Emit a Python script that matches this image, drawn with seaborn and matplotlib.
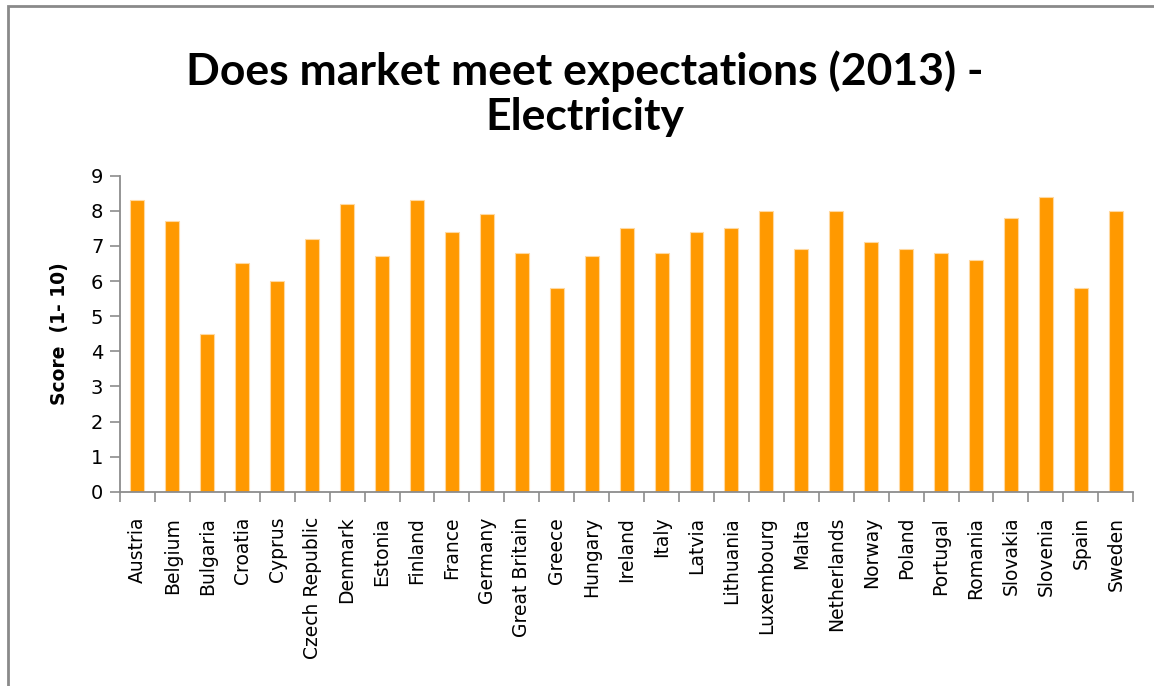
import matplotlib
matplotlib.use("Agg")
import matplotlib.pyplot as plt
import seaborn as sns
import pandas as pd
from matplotlib.patches import Rectangle

countries = ["Austria", "Belgium", "Bulgaria", "Croatia", "Cyprus", "Czech Republic",
             "Denmark", "Estonia", "Finland", "France", "Germany", "Great Britain",
             "Greece", "Hungary", "Ireland", "Italy", "Latvia", "Lithuania",
             "Luxembourg", "Malta", "Netherlands", "Norway", "Poland", "Portugal",
             "Romania", "Slovakia", "Slovenia", "Spain", "Sweden"]
scores = [8.3, 7.7, 4.5, 6.5, 6.0, 7.2, 8.2, 6.7, 8.3, 7.4, 7.9, 6.8, 5.8, 6.7,
          7.5, 6.8, 7.4, 7.5, 8.0, 6.9, 8.0, 7.1, 6.9, 6.8, 6.6, 7.8, 8.4, 5.8, 8.0]
y_ticks = [0, 1, 2, 3, 4, 5, 6, 7, 8, 9]

sns.set_theme(style="white")
plt.rcParams["font.family"] = ["DejaVu Sans"]

df = pd.DataFrame({"Country": countries, "Score": scores})

fig = plt.figure(figsize=(11.54, 6.86), dpi=100)
ax = fig.add_axes([0.104, 0.283, 0.878, 0.461])

sns.barplot(data=df, x="Country", y="Score", color="#FF9900", width=0.4,
            saturation=1, edgecolor="#FFD9A0", linewidth=0.8, ax=ax)

ax.set_ylim(0, 9)
ax.set_yticks(y_ticks)
ax.set_xlim(-0.5, len(countries) - 0.5)
ax.set_xlabel("")
ax.set_ylabel("Score  (1- 10)", fontsize=13.5, fontweight="bold", color="black")
ax.yaxis.set_label_coords(-0.050, 0.5)

for side in ["top", "right"]:
    ax.spines[side].set_visible(False)
for side in ["left", "bottom"]:
    ax.spines[side].set_color("#8c8c8c")
    ax.spines[side].set_linewidth(1.3)

ax.tick_params(axis="y", which="major", direction="out", length=7, width=1.2,
               color="#8c8c8c", left=True, labelsize=14, labelcolor="black", pad=5)
ax.tick_params(axis="x", which="major", bottom=False, labelsize=13.5, labelcolor="black",
               pad=12)
ax.set_xticks(range(len(countries)))
ax.set_xticklabels(countries, rotation=90)

# category boundary ticks on the x axis
ax.set_xticks([i - 0.5 for i in range(len(countries) + 1)], minor=True)
ax.tick_params(axis="x", which="minor", bottom=True, direction="out", length=7,
               width=1.2, color="#8c8c8c")

fig.text(0.507, 0.864, "Does market meet expectations (2013) -\nElectricity",
         ha="center", va="center", fontsize=32, fontweight="bold",
         family=["Lato", "DejaVu Sans"], linespacing=1.15, color="black")

# chart area frame
fig.add_artist(Rectangle((8 / 1154, -0.1), 1.2, 1 - 6 / 686 + 0.1,
                         transform=fig.transFigure, fill=False,
                         edgecolor="#8a8a8a", linewidth=2))

fig.savefig("out.png", dpi=100, facecolor="white")
